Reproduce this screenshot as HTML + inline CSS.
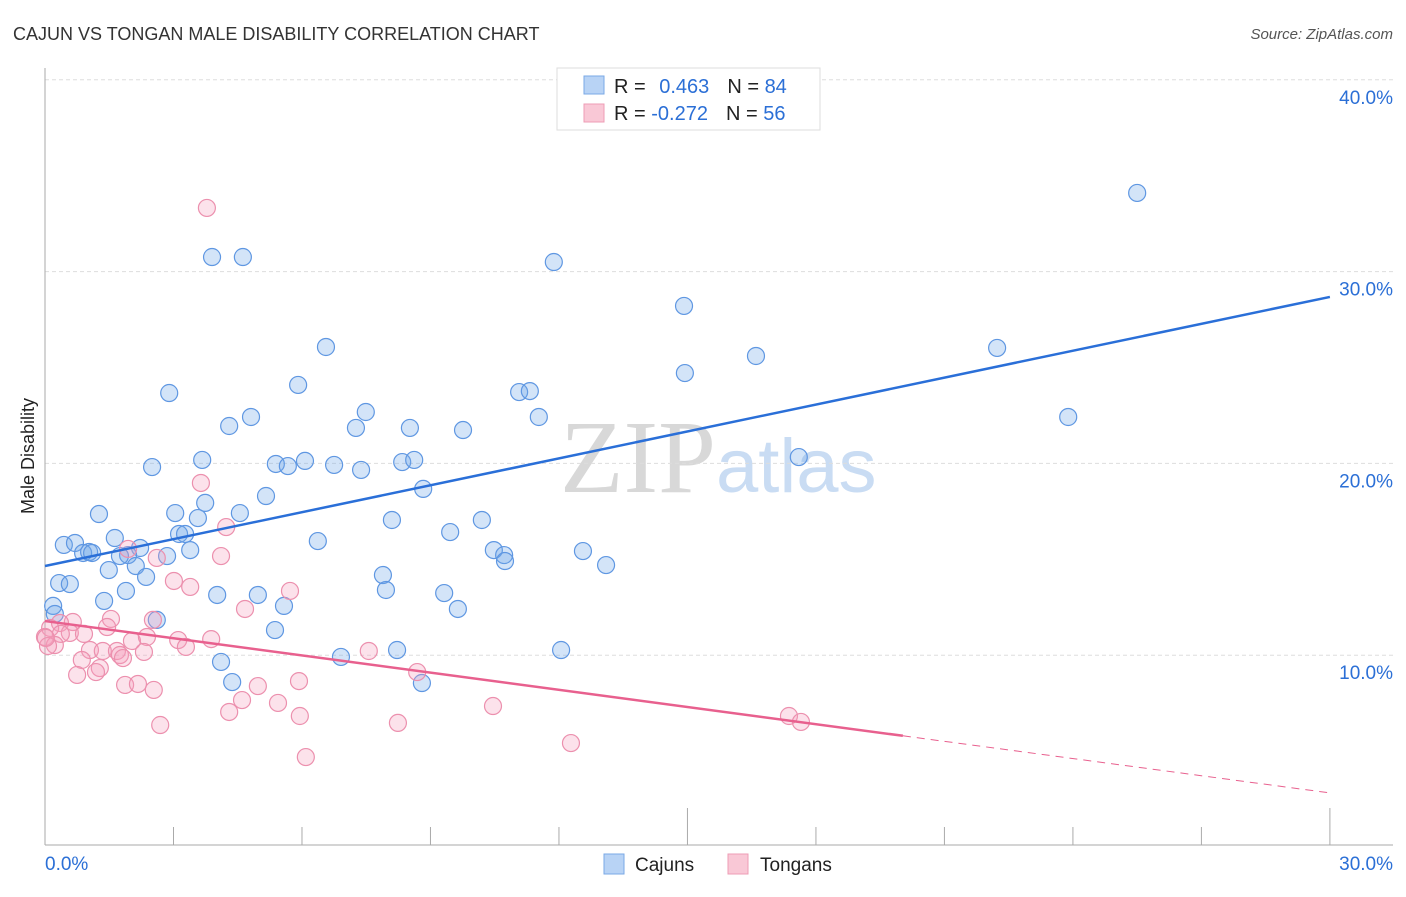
<!DOCTYPE html>
<html><head><meta charset="utf-8"><style>
body{margin:0;background:#fff;font-family:"Liberation Sans",sans-serif;}
</style></head><body>
<svg id="c" width="1406" height="892" xmlns="http://www.w3.org/2000/svg">
<text x="13" y="40" font-size="18" fill="#333">CAJUN VS TONGAN MALE DISABILITY CORRELATION CHART</text>
<text x="1393" y="39" font-size="15" fill="#555" font-style="italic" text-anchor="end">Source: ZipAtlas.com</text>
<text x="716" y="492" font-size="104" fill="#d8d8d8" font-family="Liberation Serif,serif" text-anchor="end">ZIP</text>
<text x="716" y="492" font-size="76" fill="#c9dcf3" text-anchor="start">atlas</text>
<text transform="translate(34,456) rotate(-90)" font-size="18" fill="#222" text-anchor="middle">Male Disability</text>
<g id="grid"></g><g id="pts"></g><g id="lines"></g>
<g>
<rect x="557" y="68" width="263" height="62" fill="#fff" stroke="#ddd"/>
<rect x="584" y="76" width="20" height="18" fill="#b8d3f5" stroke="#7aa8e6"/>
<rect x="584" y="104" width="20" height="18" fill="#f9c8d6" stroke="#ee9cb5"/>
<text x="614" y="93" font-size="20" fill="#222">R = <tspan fill="#2b6fd6" dx="8">0.463</tspan><tspan dx="18" fill="#222">N = </tspan><tspan fill="#2b6fd6">84</tspan></text>
<text x="614" y="120" font-size="20" fill="#222">R = <tspan fill="#2b6fd6">-0.272</tspan><tspan dx="18" fill="#222">N = </tspan><tspan fill="#2b6fd6">56</tspan></text>
</g>
<g>
<rect x="604" y="854" width="20" height="20" fill="#b8d3f5" stroke="#7aa8e6"/>
<text x="635" y="871" font-size="19" fill="#222">Cajuns</text>
<rect x="728" y="854" width="20" height="20" fill="#f9c8d6" stroke="#ee9cb5"/>
<text x="760" y="871" font-size="19" fill="#222">Tongans</text>
</g>
</svg>
<script>
const yTicks=[10,20,30,40];
const xTickVals=[0,3,6,9,12,15,18,21,24,27,30];
const blueX=[25.50,3.90,4.62,11.88,14.92,6.56,16.60,22.23,14.94,5.91,2.90,11.07,11.32,4.81,7.49,23.89,11.53,4.30,7.26,8.52,9.76,3.67,2.50,5.39,6.07,5.67,6.75,7.38,8.34,8.62,17.60,8.83,5.16,3.74,1.26,3.04,4.55,8.10,10.20,3.57,9.46,3.13,3.27,6.37,1.63,0.44,0.70,2.22,0.89,1.03,1.10,1.94,2.85,3.39,1.75,10.48,10.72,10.74,12.56,13.10,1.49,2.12,2.36,0.33,0.58,7.89,1.89,1.38,4.02,4.97,7.96,9.32,5.58,9.64,0.19,0.23,2.61,5.37,4.11,6.91,8.22,12.05,4.37,8.80];
const blueY=[34.10,30.76,30.76,30.50,28.21,26.07,25.60,26.02,24.71,24.09,23.67,23.72,23.77,22.42,22.68,22.42,22.42,21.95,21.85,21.85,21.74,20.18,19.81,19.97,20.13,19.86,19.92,19.66,20.07,20.18,20.33,18.67,18.30,17.94,17.36,17.41,17.41,17.05,17.05,17.15,16.42,16.32,16.32,15.95,16.11,15.75,15.85,15.59,15.33,15.38,15.33,15.22,15.17,15.48,15.17,15.48,15.22,14.91,15.43,14.70,14.44,14.65,14.08,13.76,13.71,14.18,13.35,12.83,13.14,13.14,13.40,13.24,12.57,12.41,12.57,12.15,11.84,11.31,9.65,9.91,10.27,10.27,8.60,8.55];
const pinkX=[3.78,3.64,4.23,1.94,2.61,4.11,3.01,3.39,5.72,4.67,1.54,2.52,0.65,0.35,1.45,0.12,0.58,0.37,0.91,0.00,2.03,2.38,3.11,3.88,0.23,3.29,1.05,1.35,1.68,2.31,1.75,1.82,0.86,7.56,1.28,1.19,0.75,8.69,1.87,2.17,2.54,4.97,5.93,4.60,5.44,4.30,5.95,10.46,17.37,17.65,2.69,8.24,12.28,6.09,0.07,0.02];
const pinkY=[33.32,18.98,16.68,15.54,15.07,15.17,13.87,13.56,13.35,12.41,11.89,11.84,11.73,11.68,11.47,11.42,11.16,11.11,11.11,10.95,10.74,10.95,10.79,10.84,10.53,10.43,10.27,10.22,10.22,10.17,10.01,9.85,9.75,10.22,9.33,9.12,8.97,9.12,8.45,8.50,8.19,8.39,8.65,7.66,7.51,7.04,6.83,7.35,6.83,6.52,6.36,6.47,5.42,4.69,10.48,10.9];
const blueFit=[14.65,28.68];
const pinkFit=[11.78,2.82];
const pinkSolidEnd=20.03;
const sx=v=>45+v*42.83, sy=v=>847-v*19.18;
const NS="http://www.w3.org/2000/svg";
const svg=document.getElementById('c');
function mk(t,a,p){const e=document.createElementNS(NS,t);for(const k in a)e.setAttribute(k,a[k]);(p||svg).appendChild(e);return e;}
const grid=document.getElementById('grid');
yTicks.forEach(v=>{
 const l=mk('line',{x1:45,x2:1393,y1:sy(v),y2:sy(v),stroke:'#ddd','stroke-dasharray':'4,3'},grid);
 
 
 const t=mk('text',{x:1393,y:sy(v)+24,'font-size':19,fill:'#2b6fd6','text-anchor':'end'},grid);
 t.textContent=v.toFixed(1)+'%';
 
 
});
const ax=mk('line',{x1:45,x2:1393,y1:845,y2:845,stroke:'#aaa'},grid);


const ay=mk('line',{x1:45,x2:45,y1:68,y2:845,stroke:'#aaa'},grid);


xTickVals.forEach((v,i)=>{
 const tall=(v===15||v===30);
 const l=mk('line',{x1:sx(v),x2:sx(v),y1:tall?808:827,y2:845,stroke:'#aaa'},grid);
 
 
});
[[0,'start'],[30,'end']].forEach(([v,a])=>{
 const t=mk('text',{x:v===0?45:1393,y:870,'font-size':19,fill:'#2b6fd6','text-anchor':a},grid);
 t.textContent=v.toFixed(1)+'%';
 
 
});
const pts=document.getElementById('pts');
blueX.forEach((x,i)=>{
 const c=mk('circle',{cx:sx(x),cy:sy(blueY[i]),r:8.5,fill:'rgba(110,165,232,0.3)',stroke:'#5f97e2','stroke-width':1.2},pts);
 
 
});
pinkX.forEach((x,i)=>{
 const c=mk('circle',{cx:sx(x),cy:sy(pinkY[i]),r:8.5,fill:'rgba(244,160,188,0.3)',stroke:'#ec90ae','stroke-width':1.2},pts);
 
 
});
const lines=document.getElementById('lines');
const bl=mk('line',{x1:sx(0),y1:sy(blueFit[0]),x2:sx(30),y2:sy(blueFit[1]),stroke:'#2a6fd8','stroke-width':2.5},lines);


const pm=pinkFit[0]+(pinkFit[1]-pinkFit[0])*pinkSolidEnd/30;
const pl=mk('line',{x1:sx(0),y1:sy(pinkFit[0]),x2:sx(pinkSolidEnd),y2:sy(pm),stroke:'#e8608e','stroke-width':2.5},lines);


const pd=mk('line',{x1:sx(pinkSolidEnd),y1:sy(pm),x2:sx(30),y2:sy(pinkFit[1]),stroke:'#e8608e','stroke-width':1,'stroke-dasharray':'8,6'},lines);


</script>
</body></html>
